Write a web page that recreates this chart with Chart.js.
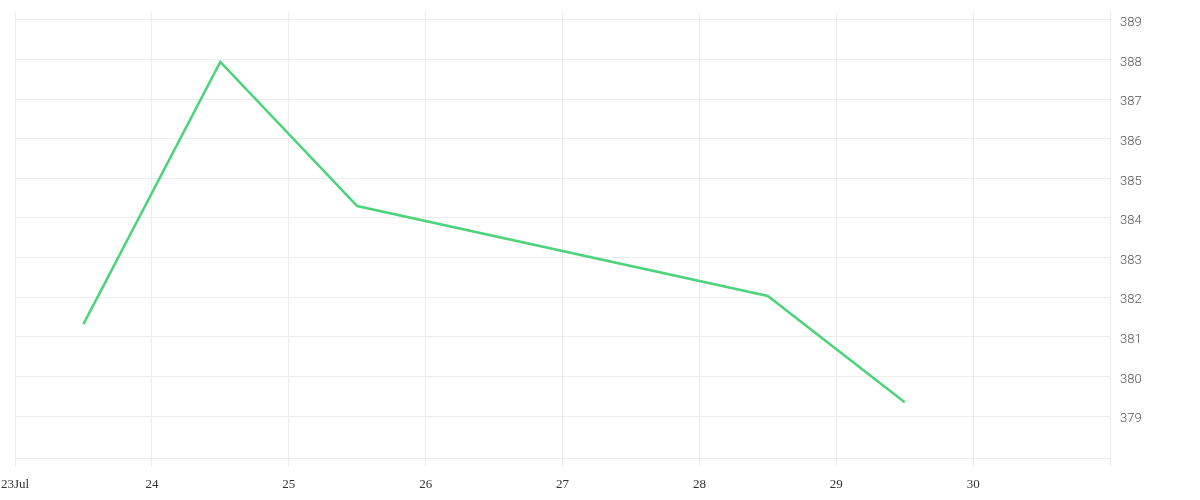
<!DOCTYPE html>
<html>
<head>
<meta charset="utf-8">
<script src="https://cdn.jsdelivr.net/npm/chart.js@4/dist/chart.umd.min.js"></script>
<style>
  html, body { margin: 0; padding: 0; background: #fff; }
  #wrap { width: 1200px; height: 500px; position: relative; }
</style>
</head>
<body>
<div id="wrap"><canvas id="myChart"></canvas></div>
<script>
/* data: day of July (noon points) and price */
var days = [23.5, 24.5, 25.5, 28.5, 29.5];
var prices = [381.32, 387.94, 384.3, 382.03, 379.35];
var dayTicks = [23, 24, 25, 26, 27, 28, 29, 30, 31];
var priceTicks = [379, 380, 381, 382, 383, 384, 385, 386, 387, 388, 389];

var gridColor = "#ececec";

var ctx = document.getElementById("myChart");
var myChart = new Chart(ctx, {
  type: 'line',
  data: {
    datasets: [
      {
        data: days.map(function (d, i) { return { x: d, y: prices[i] }; }),
        borderColor: "#4dd47b",
        borderWidth: 2.5,
        pointRadius: 0,
        fill: false,
        tension: 0
      }
    ]
  },
  options: {
    responsive: true,
    maintainAspectRatio: false,
    animation: false,
    layout: { padding: { left: 15, right: 0, top: 12, bottom: 0 } },
    plugins: { legend: { display: false }, tooltip: { enabled: false } },
    scales: {
      x: {
        type: 'linear',
        min: 23,
        max: 31,
        afterBuildTicks: function (axis) {
          axis.ticks = dayTicks.map(function (v) { return { value: v }; });
        },
        afterFit: function (axis) {
          axis.height = 42;
          axis.paddingLeft = 0;
          axis.paddingRight = 0;
        },
        ticks: {
          autoSkip: false,
          maxRotation: 0,
          padding: 11,
          color: "#333",
          font: { family: "'Liberation Serif', serif", size: 13 },
          callback: function (v) {
            if (v === 23) return '23Jul';
            if (v === 31) return '';
            return v;
          }
        },
        grid: { color: gridColor, tickLength: 8 },
        border: { color: gridColor }
      },
      y: {
        position: 'right',
        min: 377.94,
        max: 389.2,
        afterBuildTicks: function (axis) {
          axis.ticks = priceTicks.map(function (v) { return { value: v }; });
        },
        afterFit: function (axis) {
          axis.width = 90;
          axis.paddingTop = 0;
          axis.paddingBottom = 0;
        },
        ticks: {
          padding: 10,
          labelOffset: 3,
          color: "#555",
          font: { family: "Roboto", weight: 300, size: 13 }
        },
        grid: { color: gridColor, drawTicks: false },
        border: { display: false }
      }
    }
  }
});
</script>
</body>
</html>
